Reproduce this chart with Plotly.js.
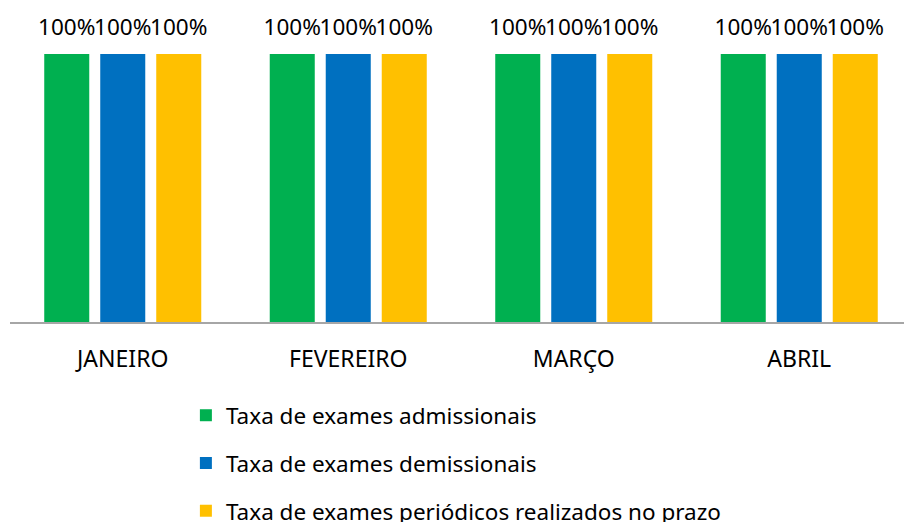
<!DOCTYPE html>
<html>
<head>
<meta charset="utf-8">
<script src="https://cdn.plot.ly/plotly-3.0.1.min.js"></script>
<style>
  html, body { margin: 0; padding: 0; overflow: hidden; background: #fff; }
</style>
</head>
<body>
<div id="myPlot"></div>
<script>
// months and the three rates (all at 100%)
var months = ["JANEIRO", "FEVEREIRO", "MARÇO", "ABRIL"];
var admissionais = [1, 1, 1, 1];
var demissionais = [1, 1, 1, 1];
var periodicos = [1, 1, 1, 1];

var seriesNames = [
  "Taxa de exames admissionais",
  "Taxa de exames demissionais",
  "Taxa de exames periódicos realizados no prazo"
];
var seriesColors = ["#00b050", "#0070c0", "#ffc000"];
var seriesValues = [admissionais, demissionais, periodicos];

var font = "Noto Sans, sans-serif";

// the tiny second line lifts the label a bit higher above the bar
var labelTemplate = '<span style="font-size:22.5px">%{y:.0%}</span><br><span style="font-size:1px">&nbsp;</span>';

var data = seriesValues.map(function(vals, i){
  return {
    type: "bar",
    x: months,
    y: vals,
    name: seriesNames[i],
    legendgroup: "g" + i,
    marker: {color: seriesColors[i]},
    texttemplate: labelTemplate,
    textposition: "outside",
    constraintext: "none",
    cliponaxis: false,
    textfont: {family: font, size: 12, color: "#000"},
    hoverinfo: "none"
  };
});

var layout = {
  width: 912,
  height: 522,
  margin: {l: 10, r: 0, t: 54, b: 200},
  paper_bgcolor: "#fff",
  plot_bgcolor: "#fff",
  barmode: "group",
  bargap: 0.255,
  bargroupgap: 0.196,
  font: {family: font, size: 22, color: "#000"},
  xaxis: {
    showline: true,
    linecolor: "#a6a6a6",
    linewidth: 1.5,
    ticks: "",
    automargin: false,
    ticklabelstandoff: 16,
    tickfont: {family: font, size: 23, color: "#000"}
  },
  yaxis: {
    range: [0, 1],
    visible: false,
    showgrid: false,
    zeroline: false,
    automargin: false
  },
  showlegend: true,
  legend: {
    orientation: "v",
    x: 0.195,
    xanchor: "left",
    yref: "container",
    y: 0.245,
    yanchor: "top",
    traceorder: "grouped",
    tracegroupgap: 15.5,
    font: {family: font, size: 22.5, color: "#000"}
  }
};

Plotly.newPlot("myPlot", data, layout, {displayModeBar: false, staticPlot: true});
</script>
</body>
</html>
